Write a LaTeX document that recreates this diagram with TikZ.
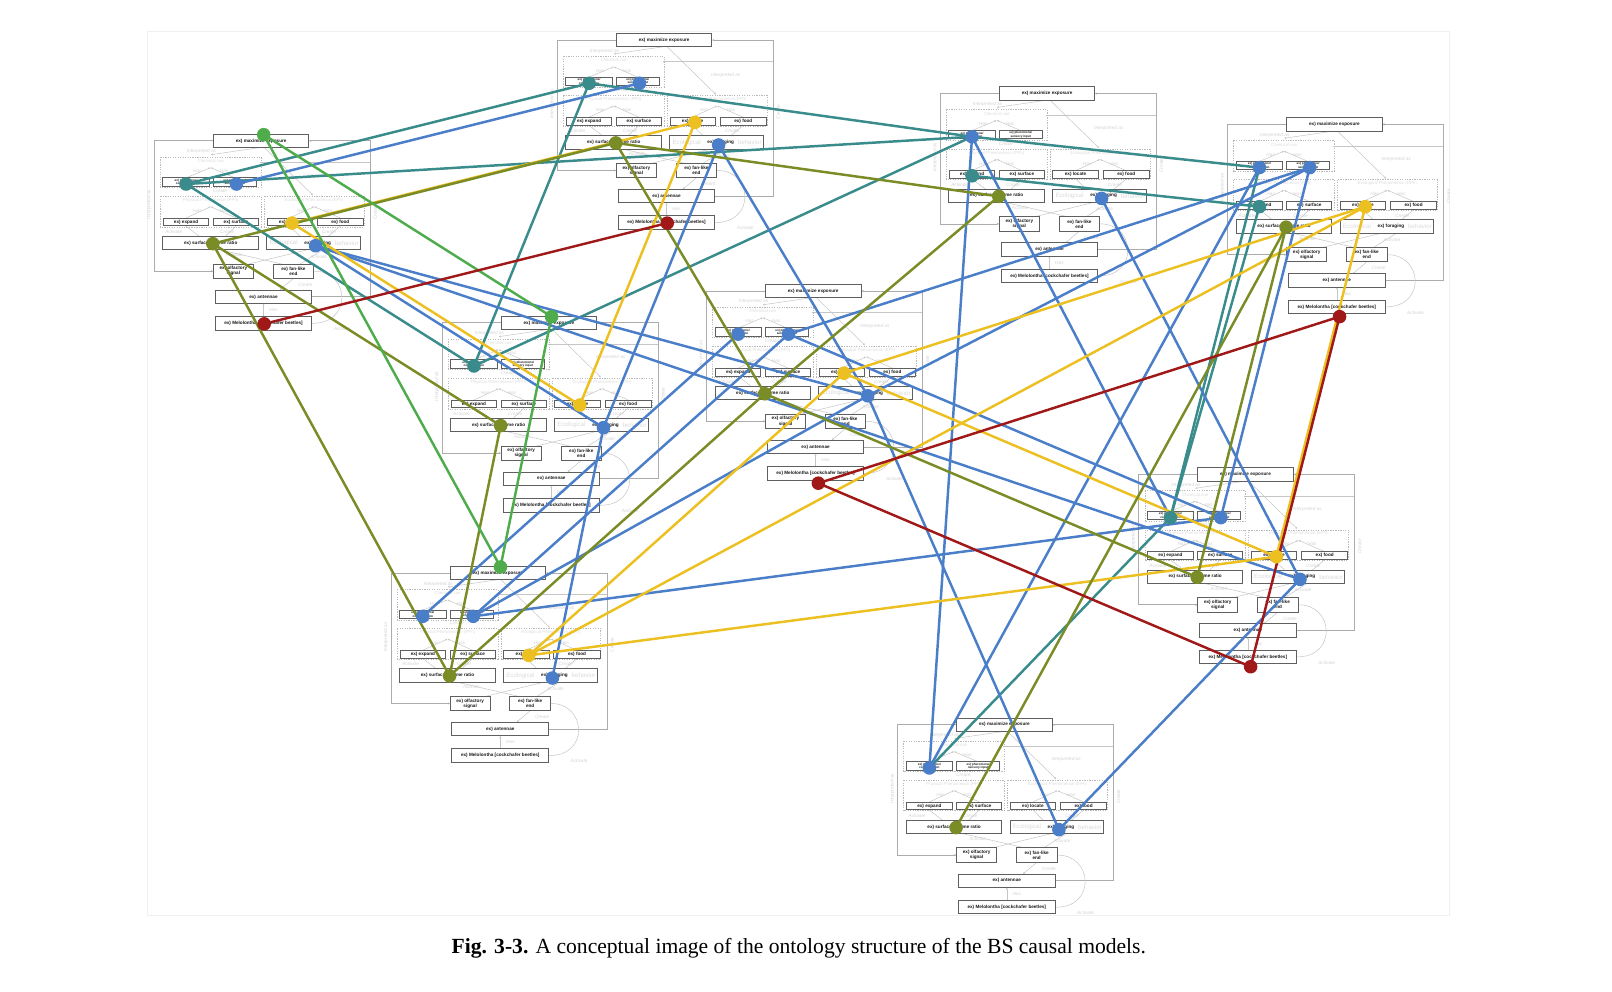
\documentclass[tikz,border=0pt]{standalone}
\usepackage{fontspec}
\setmainfont{Liberation Serif}
\newfontfamily\boxfont{Liberation Sans}
\usetikzlibrary{arrows.meta}

\definecolor{cteal}{RGB}{58,140,140}
\definecolor{cblue}{RGB}{74,126,200}
\definecolor{cyel}{RGB}{236,192,32}
\definecolor{colv}{RGB}{122,140,38}
\definecolor{cgrn}{RGB}{78,172,76}
\definecolor{cred}{RGB}{160,24,24}
\definecolor{bxc}{RGB}{95,95,95}

\tikzset{
 bx/.style={draw=bxc, line width=0.9pt, fill=white, inner sep=0pt, text=black!90, align=center,
   font=\fontsize{4.5}{4.9}\selectfont\boxfont\bfseries},
 sbx/.style={bx, font=\fontsize{3}{3.3}\selectfont\boxfont\bfseries},
 frm/.style={draw=gray!65, line width=0.7pt},
 dsh/.style={draw=gray!55, line width=0.5pt, dash pattern=on 1.2pt off 1.2pt},
 fl/.style={draw=gray!45, line width=0.5pt},
 fa/.style={fl, -{Latex[length=2pt,width=2pt]}},
 flab/.style={text=gray!35, font=\fontsize{4.6}{5}\selectfont\boxfont\itshape, inner sep=0pt},
 glab/.style={text=gray!28, font=\fontsize{4.2}{5}\selectfont\boxfont, inner sep=0pt},
 ln/.style={line width=2.4pt},
 blk/.pic={
   % frame connectors
   \draw[frm,-{Latex[length=2.2pt,width=2.2pt]}] (-46.5,0) -- (-104,0) -- (-104,126.8) -- (-46.5,126.8);
   \draw[frm,-{Latex[length=2.2pt,width=2.2pt]}] (49.3,151.7) -- (106,151.7) -- (106,0) -- (46.5,0);
   \draw[fl] (-1,21) -- (106,21);
   % dashed groups
   \draw[dsh] (-98,15.6) rectangle (0,45.4);
   \draw[dsh] (-98,53.8) rectangle (0,83.6);
   \draw[dsh] (3,53.8) rectangle (100,83.6);
   \node[glab] at (-49,19.6) {Chemical cue};
   \node[glab] at (-49,57.8) {Physical Phenomenon (PPh)};
   \node[glab] at (51.5,57.8) {Ecological Phenomenon (EPh)};
   % trees
   \draw[fa] (-73,36) -- (-49,26);
   \draw[fa] (-25.6,36) -- (-49,26);
   \draw[fa] (-73,75) -- (-49,64);
   \draw[fa] (-24.5,75) -- (-49,64);
   \draw[fa] (27.7,75) -- (51.5,64);
   \draw[fa] (77,75) -- (51.5,64);
   \node[flab] at (-62,29.5) {Has};
   \node[flab] at (-36,29.5) {Has};
   \node[flab] at (-62,68) {Has};
   \node[flab] at (-36,68) {Has};
   \node[flab] at (39,68) {Has};
   \node[flab] at (65,68) {Has};
   % interpreted as
   \draw[fa] (-1,6.5) -- (-49,13.5);
   \draw[fa] (3,6.5) -- (50.5,53);
   \node[flab] at (-58,10.5) {Interpreted as};
   \node[flab] at (60,34) {Interpreted as};
   \node[flab, rotate=90] at (-109,62) {Interpreted as};
   \node[flab, rotate=90] at (111,70) {Create};
   \node[flab] at (-40,48.6) {Create};
   % row to behaviour
   \draw[fl] (-73,83) -- (-60,93);
   \draw[fl] (-24.5,83) -- (-35,93);
   \draw[fl] (27.7,83) -- (38,93);
   \draw[fl] (77,83) -- (65,93);
   \node[flab] at (-85,88.5) {Activate};
   \node[flab] at (-33,88.5) {Create};
   \node[flab] at (66,88.5) {Create};
   % behaviour to organs
   \draw[fl] (-40,106) -- (20,119.8);
   \draw[fl] (45,106) -- (-12,119.8);
   \draw[fl] (60,106) -- (38,119.8);
   \node[flab] at (-26,111) {Activate};
   \node[flab] at (56,112.5) {Activate};
   \draw[fa] (31.4,133.8) -- (18,145.2);
   \node[flab] at (43,140) {Create};
   \draw[fa] (2.3,171) -- (2.3,158.2);
   \node[flab] at (12,164.5) {Has};
   \draw[fl] (51.2,126.8) .. controls (86,126) and (90,178) .. (49.3,177.5);
   \node[flab] at (79,183) {Activate};
   % boxes
   \node[bx, minimum width=93, minimum height=13] (-title) at (0,0) {ex) maximize exposure};
   \node[sbx, minimum width=45, minimum height=8] (-c1) at (-73,40) {ex) pheromone/\\concentration};
   \node[sbx, minimum width=42, minimum height=8] (-c2) at (-25.6,40) {ex) pheromone/\\sensory input};
   \node[bx, minimum width=44, minimum height=7.5] (-expand) at (-73,79) {ex) expand};
   \node[bx, minimum width=44, minimum height=7.5] (-surf) at (-24.5,79) {ex) surface};
   \node[bx, minimum width=44, minimum height=7.5] (-locate) at (27.7,79) {ex) locate};
   \node[bx, minimum width=45, minimum height=7.5] (-food) at (77,79) {ex) food};
   \node[bx, minimum width=93, minimum height=13] (-svr) at (-49,99.4) {ex) surface volume ratio};
   \node[bx, minimum width=91, minimum height=13] (-forag) at (51,99.4) {};
   \node[glab, font=\fontsize{6}{7}\selectfont\boxfont, anchor=west] at (8,99.6) {Ecological};
   \node[glab, font=\fontsize{6}{7}\selectfont\boxfont, anchor=east] at (95,99.6) {behavior};
   \node[inner sep=0pt, text=black!90, font=\fontsize{4.5}{4.9}\selectfont\boxfont\bfseries] at (55,99.4) {ex) foraging};
   \node[bx, minimum width=39, minimum height=14] (-olf) at (-27,126.8) {ex) olfactory\\signal};
   \node[bx, minimum width=39.5, minimum height=14] (-fan) at (31.4,126.8) {ex) fan-like\\end};
   \node[bx, minimum width=94, minimum height=13] (-ant) at (2.3,151.7) {ex) antennae};
   \node[bx, minimum width=94, minimum height=13] (-mel) at (2.3,177.5) {ex) Melolontha [cockchafer beetles]};
   % anchor points for the coloured links
   \coordinate (-grn) at (2.5,-6);
   \coordinate (-teal) at (-73,42);
   \coordinate (-b1) at (-24,42);
   \coordinate (-exp) at (-73,80);
   \coordinate (-yel) at (30,80);
   \coordinate (-olv) at (-47,100);
   \coordinate (-b2) at (53,102);
   \coordinate (-red) at (3,178);
   \coordinate (-redb) at (5,187);
 }
}
\newcommand\mydot[2]{\fill[#1] (#2) circle[radius=6.6pt];}

\begin{document}
\begin{tikzpicture}[x=1pt,y=-1pt]
\useasboundingbox (0,0) rectangle (1568,964);
\draw[gray!12, line width=0.6pt] (143,30) rectangle (1410,890);

\pic (A) at (646,39) {blk};
\pic (B) at (254,137) {blk};
\pic (C) at (1018.5,91) {blk};
\pic (D) at (1298,121) {blk};
\pic (E) at (534,314) {blk};
\pic (F) at (791,283) {blk};
\pic (G) at (1211.5,461.5) {blk};
\pic (H) at (484.3,557.5) {blk};
\pic (I) at (977,705) {blk};

% teal links
\draw[cteal,ln] (A-teal) -- (B-teal);
\draw[cteal,ln] (A-teal) -- (E-teal);
\draw[cteal,ln] (A-teal) -- (C-teal);
\draw[cteal,ln] (B-teal) -- (C-teal);
\draw[cteal,ln] (B-teal) -- (E-teal);
\draw[cteal,ln] (E-teal) -- (C-teal);
\draw[cteal,ln] (C-teal) -- (D-teal);
\draw[cteal,ln] (C-exp) -- (D-exp);
\draw[cteal,ln] (D-exp) -- (G-teal);
\draw[cteal,ln] (D-teal) -- (G-teal);
\draw[cteal,ln] (G-teal) -- (I-teal);

% blue links
\draw[cblue,ln] (A-b1) -- (B-b1);
\draw[cblue,ln] (A-b2) -- (E-b2);
\draw[cblue,ln] (A-b2) -- (F-b2);
\draw[cblue,ln] (F-b2) -- (I-b2);
\draw[cblue,ln] (B-b2) -- (E-b2);
\draw[cblue,ln] (B-b2) -- (F-b2);
\draw[cblue,ln] (B-b2) -- (G-b2);
\draw[cblue,ln] (E-b2) -- (H-b2);
\draw[cblue,ln] (C-teal) -- (I-teal);
\draw[cblue,ln] (C-teal) -- (G-teal);
\draw[cblue,ln] (C-b2) -- (G-b2);
\draw[cblue,ln] (D-teal) -- (I-teal);
\draw[cblue,ln] (D-b1) -- (F-b1);
\draw[cblue,ln] (D-b1) -- (G-b1);
\draw[cblue,ln] (D-b1) -- (F-b2);
\draw[cblue,ln] (F-b2) -- (H-b1);
\draw[cblue,ln] (F-teal) -- (H-teal);
\draw[cblue,ln] (F-b1) -- (H-b1);
\draw[cblue,ln] (H-b1) -- (G-b1);
\draw[cblue,ln] (F-b1) -- (G-b1);
\draw[cblue,ln] (G-b2) -- (I-b2);

% yellow links
\draw[cyel,ln] (A-yel) -- (B-yel);
\draw[cyel,ln] (A-yel) -- (E-yel);
\draw[cyel,ln] (B-yel) -- (E-yel);
\draw[cyel,ln] (H-yel) -- (F-yel);
\draw[cyel,ln] (H-yel) -- (D-yel);
\draw[cyel,ln] (H-yel) -- (G-yel);
\draw[cyel,ln] (F-yel) -- (D-yel);
\draw[cyel,ln] (F-yel) -- (G-yel);
\draw[cyel,ln] (D-yel) -- (G-yel);

% olive links
\draw[colv,ln] (A-olv) -- (B-olv);
\draw[colv,ln] (A-olv) -- (C-olv);
\draw[colv,ln] (A-olv) -- (F-olv);
\draw[colv,ln] (B-olv) -- (E-olv);
\draw[colv,ln] (B-olv) -- (H-olv);
\draw[colv,ln] (E-olv) -- (H-olv);
\draw[colv,ln] (F-olv) -- (C-olv);
\draw[colv,ln] (F-olv) -- (G-olv);
\draw[colv,ln] (F-olv) -- (H-olv);
\draw[colv,ln] (D-olv) -- (G-olv);
\draw[colv,ln] (D-olv) -- (I-olv);

% green links
\draw[cgrn,ln] (B-grn) -- (E-grn);
\draw[cgrn,ln] (B-grn) -- (H-grn);
\draw[cgrn,ln] (E-grn) -- (H-grn);

% red links
\draw[cred,ln] (A-red) -- (B-red);
\draw[cred,ln] (F-redb) -- (D-redb);
\draw[cred,ln] (F-redb) -- (G-redb);
\draw[cred,ln] (D-redb) -- (G-redb);

% dots
\mydot{cteal}{A-teal} \mydot{cblue}{A-b1} \mydot{cyel}{A-yel} \mydot{colv}{A-olv} \mydot{cblue}{A-b2} \mydot{cred}{A-red}
\mydot{cgrn}{B-grn} \mydot{cteal}{B-teal} \mydot{cblue}{B-b1} \mydot{cyel}{B-yel} \mydot{colv}{B-olv} \mydot{cblue}{B-b2} \mydot{cred}{B-red}
\mydot{cblue}{C-teal} \mydot{cteal}{C-exp} \mydot{colv}{C-olv} \mydot{cblue}{C-b2}
\mydot{cblue}{D-teal} \mydot{cblue}{D-b1} \mydot{cteal}{D-exp} \mydot{cyel}{D-yel} \mydot{colv}{D-olv} \mydot{cred}{D-redb}
\mydot{cgrn}{E-grn} \mydot{cteal}{E-teal} \mydot{cyel}{E-yel} \mydot{colv}{E-olv} \mydot{cblue}{E-b2}
\mydot{cblue}{F-teal} \mydot{cblue}{F-b1} \mydot{cyel}{F-yel} \mydot{colv}{F-olv} \mydot{cblue}{F-b2} \mydot{cred}{F-redb}
\mydot{cteal}{G-teal} \mydot{cblue}{G-b1} \mydot{cyel}{G-yel} \mydot{colv}{G-olv} \mydot{cblue}{G-b2} \mydot{cred}{G-redb}
\mydot{cgrn}{H-grn} \mydot{cblue}{H-teal} \mydot{cblue}{H-b1} \mydot{cyel}{H-yel} \mydot{colv}{H-olv} \mydot{cblue}{H-b2}
\mydot{cblue}{I-teal} \mydot{colv}{I-olv} \mydot{cblue}{I-b2}

\node[font=\fontsize{21}{23}\selectfont, inner sep=0pt] (cap) at (777,922)
  {\textbf{Fig. 3-3.} A conceptual image of the ontology structure of the BS causal models.};
\end{tikzpicture}
\end{document}
